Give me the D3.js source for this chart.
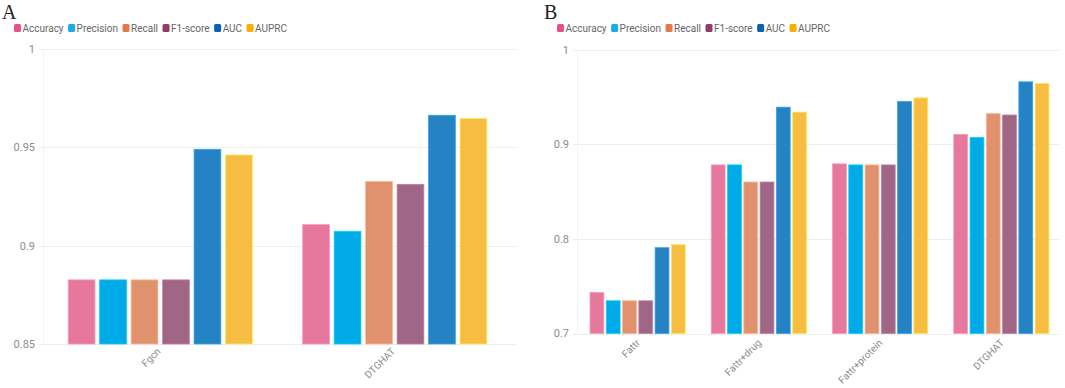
<!DOCTYPE html>
<html>
<head>
<meta charset="utf-8">
<script src="https://cdn.jsdelivr.net/npm/d3@7"></script>
<style>
  html, body { margin: 0; padding: 0; background: #fff; }
  svg { display: block; }
</style>
</head>
<body>
<svg id="chart" width="1065" height="388"></svg>
<script>
// ---------------- DATA ----------------
const metrics = ["Accuracy", "Precision", "Recall", "F1-score", "AUC", "AUPRC"];

// Panel A
const categoriesA = ["Fgcn", "DTGHAT"];
const accuracyA  = [0.8826, 0.9107];
const precisionA = [0.8826, 0.9073];
const recallA    = [0.8826, 0.9326];
const f1A        = [0.8826, 0.9312];
const aucA       = [0.9490, 0.9663];
const auprcA     = [0.9461, 0.9647];
const ticksA     = [0.85, 0.9, 0.95, 1];
const tickLabelsA = ["0.85", "0.9", "0.95", "1"];

// Panel B
const categoriesB = ["Fattr", "Fattr+drug", "Fattr+protein", "DTGHAT"];
const accuracyB  = [0.7435, 0.8784, 0.8795, 0.9107];
const precisionB = [0.7346, 0.8784, 0.8784, 0.9073];
const recallB    = [0.7346, 0.8603, 0.8784, 0.9326];
const f1B        = [0.7346, 0.8603, 0.8784, 0.9312];
const aucB       = [0.7908, 0.9395, 0.9455, 0.9663];
const auprcB     = [0.7940, 0.9343, 0.9493, 0.9647];
const ticksB     = [0.7, 0.8, 0.9, 1];
const tickLabelsB = ["0.7", "0.8", "0.9", "1"];

// ---------------- STYLE ----------------
const barColors    = ["#e6789e", "#00aae6", "#e0926f", "#a06686", "#2683c3", "#f7bd42"];
const legendColors = ["#e8508a", "#14ade8", "#e07a48", "#8e3c6c", "#0b61b1", "#f8b000"];
const font = "Roboto, 'Noto Sans', sans-serif";

const svg = d3.select("#chart");

function drawPanel(cfg) {
  const g = svg.append("g");
  const series = [cfg.acc, cfg.prec, cfg.rec, cfg.f1, cfg.auc, cfg.auprc];

  const x0 = d3.scaleBand().domain(cfg.categories)
    .range([cfg.left, cfg.right]).paddingInner(0.215).paddingOuter(0.1075);
  const x1 = d3.scaleBand().domain(metrics)
    .range([0, x0.bandwidth()]).paddingInner(0.15).paddingOuter(0);
  const y = d3.scaleLinear().domain(cfg.domain).range([cfg.bottom, cfg.top]);

  // title
  g.append("text").attr("x", cfg.titleX).attr("y", 19)
    .attr("font-family", "'Liberation Serif', 'Times New Roman', serif")
    .attr("font-size", 20).attr("fill", "#222").text(cfg.title);

  // legend
  let lx = cfg.legendX;
  metrics.forEach((m, i) => {
    g.append("rect").attr("x", lx).attr("y", 24).attr("width", 7).attr("height", 8)
      .attr("rx", 1.5).attr("fill", legendColors[i]);
    const t = g.append("text").attr("x", lx + 8.5).attr("y", 31.5)
      .attr("font-family", font).attr("font-size", 10).attr("fill", "#666").text(m);
    lx += 8.5 + t.node().getComputedTextLength() + 4.5;
  });

  // gridlines
  g.append("g").selectAll("line").data(cfg.ticks).join("line")
    .attr("x1", cfg.left - 4).attr("x2", cfg.gridRight)
    .attr("y1", d => Math.round(y(d)) + 0.5).attr("y2", d => Math.round(y(d)) + 0.5)
    .attr("stroke", "#eeeeee").attr("stroke-width", 1);
  g.append("line").attr("x1", cfg.left + 0.5).attr("x2", cfg.left + 0.5)
    .attr("y1", y(cfg.domain[1])).attr("y2", cfg.bottom)
    .attr("stroke", "#f3f3f3").attr("stroke-width", 1);

  // y tick labels
  g.append("g").selectAll("text").data(cfg.ticks).join("text")
    .attr("x", cfg.left - 8).attr("y", d => y(d)).attr("dy", "0.35em")
    .attr("text-anchor", "end").attr("font-family", font).attr("font-size", 11)
    .attr("fill", "#8c8c8c").text((d, i) => cfg.tickLabels[i]);

  // bars
  cfg.categories.forEach((c, ci) => {
    metrics.forEach((m, mi) => {
      const v = series[mi][ci];
      g.append("rect")
        .attr("x", x0(c) + x1(m)).attr("width", x1.bandwidth())
        .attr("y", y(v)).attr("height", y(cfg.domain[0]) - y(v))
        .attr("fill", barColors[mi])
        .attr("stroke", d3.color(barColors[mi]).brighter(0.6).formatHex())
        .attr("stroke-width", 0.8);
    });
  });

  // x labels
  g.append("g").selectAll("text").data(cfg.categories).join("text")
    .attr("transform", d => `translate(${x0(d) + x0.bandwidth() / 2 + cfg.labelDx},${cfg.bottom + cfg.labelDy}) rotate(-45)`)
    .attr("text-anchor", "end").attr("font-family", font).attr("font-size", 10)
    .attr("fill", "#8c8c8c").text(d => d);
}

drawPanel({
  title: "A", titleX: 2, legendX: 14,
  categories: categoriesA,
  acc: accuracyA, prec: precisionA, rec: recallA, f1: f1A, auc: aucA, auprc: auprcA,
  ticks: ticksA, tickLabels: tickLabelsA, domain: [0.85, 1],
  left: 43, right: 512, gridRight: 517, top: 49, bottom: 344,
  labelDx: 1, labelDy: 8
});

drawPanel({
  title: "B", titleX: 544, legendX: 557,
  categories: categoriesB,
  acc: accuracyB, prec: precisionB, rec: recallB, f1: f1B, auc: aucB, auprc: auprcB,
  ticks: ticksB, tickLabels: tickLabelsB, domain: [0.7, 1],
  left: 577, right: 1062, gridRight: 1060, top: 50, bottom: 333.5,
  labelDx: 3, labelDy: 10
});
</script>
</body>
</html>
